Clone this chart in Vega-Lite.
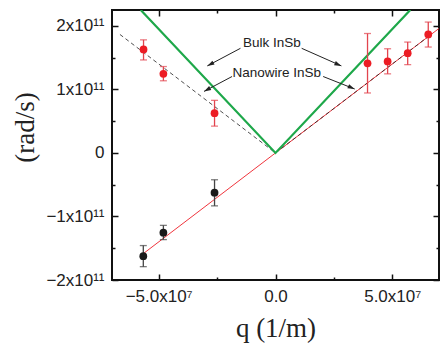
{
  "$schema": "https://vega.github.io/schema/vega-lite/v6.json",
  "autosize": {"type": "none"},
  "width": 327,
  "height": 270,
  "padding": {"left": 112, "top": 10, "right": 1, "bottom": 70},
  "background": "white",
  "config": {
    "view": {"stroke": "#111", "strokeWidth": 2},
    "axis": {"grid": false, "domain": false}
  },
  "datasets": {
    "lines": [
      {"series": "red", "q": -5.66e7, "w": -1.585e11},
      {"series": "red", "q": 7.0e7, "w": 1.96e11},
      {"series": "dash", "q": -6.66e7, "w": 1.865e11},
      {"series": "dash", "q": 0, "w": 0},
      {"series": "dash", "q": 6.66e7, "w": 1.865e11},
      {"series": "green", "q": -5.77e7, "w": 2.25e11},
      {"series": "green", "q": 0, "w": 0},
      {"series": "green", "q": 5.77e7, "w": 2.25e11}
    ],
    "points": [
      {"group": "red", "q": -5.65e7, "w": 1.63e11, "lo": 1.464e11, "hi": 1.78e11},
      {"group": "red", "q": -4.8e7, "w": 1.245e11, "lo": 1.136e11, "hi": 1.36e11},
      {"group": "red", "q": -2.61e7, "w": 0.625e11, "lo": 0.422e11, "hi": 0.828e11},
      {"group": "red", "q": 3.94e7, "w": 1.41e11, "lo": 0.944e11, "hi": 1.88e11},
      {"group": "red", "q": 4.8e7, "w": 1.44e11, "lo": 1.245e11, "hi": 1.64e11},
      {"group": "red", "q": 5.66e7, "w": 1.57e11, "lo": 1.39e11, "hi": 1.745e11},
      {"group": "red", "q": 6.54e7, "w": 1.865e11, "lo": 1.667e11, "hi": 2.06e11},
      {"group": "black", "q": -5.66e7, "w": -1.625e11, "lo": -1.79e11, "hi": -1.458e11},
      {"group": "black", "q": -4.8e7, "w": -1.255e11, "lo": -1.364e11, "hi": -1.14e11},
      {"group": "black", "q": -2.61e7, "w": -0.625e11, "lo": -0.833e11, "hi": -0.422e11}
    ],
    "arrows": [
      {"side": "left", "q": -1.5e7, "w": 1.647e11, "q2": -2.92e7, "w2": 1.37e11},
      {"side": "right", "q": 1.12e7, "w": 1.647e11, "q2": 2.82e7, "w2": 1.37e11},
      {"side": "left", "q": -1.86e7, "w": 1.203e11, "q2": -3.06e7, "w2": 0.969e11},
      {"side": "right", "q": 2.04e7, "w": 1.203e11, "q2": 3.39e7, "w2": 1.006e11}
    ],
    "labels": [
      {"label": "Bulk InSb", "q": -0.157e7, "w": 1.725e11},
      {"label": "Nanowire InSb", "q": 0.055e7, "w": 1.266e11}
    ]
  },
  "resolve": {"axis": {"x": "independent", "y": "independent"}},
  "layer": [
    {
      "data": {"name": "lines"},
      "transform": [{"filter": "datum.series == 'red'"}],
      "mark": {"type": "line", "color": "#f0353d", "strokeWidth": 1, "clip": true},
      "encoding": {
        "x": {"field": "q", "type": "quantitative",
          "scale": {"domain": [-7e7, 7e7], "nice": false, "zero": false},
          "axis": {
            "orient": "bottom",
            "values": [-5e7, -2.5e7, 0, 2.5e7, 5e7],
            "labelExpr": "datum.value == 0 ? '0.0' : (datum.value % 5e7 == 0 ? format(datum.value / 1e7, '.1f') + 'x10⁷' : '')",
            "labelFont": "Liberation Sans", "labelFontSize": 17, "labelColor": "#222",
            "labelPadding": 14,
            "tickColor": "#111", "tickWidth": 1.5,
            "tickSize": {"condition": {"test": "datum.value % 5e7 == 0", "value": -6}, "value": -3},
            "title": "q (1/m)", "titleFont": "Liberation Serif", "titleFontSize": 27,
            "titleFontWeight": "normal", "titleColor": "#222", "titlePadding": 11
          }},
        "y": {"field": "w", "type": "quantitative",
          "scale": {"domain": [-2e11, 2.25e11], "nice": false, "zero": false},
          "axis": {
            "orient": "left",
            "values": [-2e11, -1.5e11, -1e11, -0.5e11, 0, 0.5e11, 1e11, 1.5e11, 2e11],
            "labelExpr": "datum.value == 0 ? '0' : (datum.value % 1e11 == 0 ? format(datum.value / 1e11, 'd') + 'x10¹¹' : '')",
            "labelFont": "Liberation Sans", "labelFontSize": 17, "labelColor": "#222",
            "labelPadding": 14,
            "tickColor": "#111", "tickWidth": 1.5,
            "tickSize": {"condition": {"test": "datum.value % 1e11 == 0", "value": -6}, "value": -3},
            "title": "(rad/s)", "titleFont": "Liberation Serif", "titleFontSize": 27,
            "titleFontWeight": "normal", "titleColor": "#222",
            "titleX": -87, "titleY": 117, "titleAngle": -90, "titleBaseline": "middle", "titleAlign": "center"
          }}
      }
    },
    {
      "data": {"name": "lines"},
      "transform": [{"filter": "datum.series == 'dash'"}],
      "mark": {"type": "line", "color": "#222", "strokeWidth": 0.8, "strokeDash": [4, 3], "clip": true},
      "encoding": {
        "x": {"field": "q", "type": "quantitative",
          "axis": {
            "orient": "top", "labels": false, "title": null,
            "values": [-5e7, -2.5e7, 0, 2.5e7, 5e7],
            "tickColor": "#111", "tickWidth": 1.5,
            "tickSize": {"condition": {"test": "datum.value % 5e7 == 0", "value": -6}, "value": -3}
          }},
        "y": {"field": "w", "type": "quantitative",
          "axis": {
            "orient": "right", "labels": false, "title": null,
            "values": [-2e11, -1.5e11, -1e11, -0.5e11, 0, 0.5e11, 1e11, 1.5e11, 2e11],
            "tickColor": "#111", "tickWidth": 1.5,
            "tickSize": {"condition": {"test": "datum.value % 1e11 == 0", "value": -6}, "value": -3}
          }}
      }
    },
    {
      "data": {"name": "lines"},
      "transform": [{"filter": "datum.series == 'green'"}],
      "mark": {"type": "line", "color": "#1ea84a", "strokeWidth": 2.2, "clip": true},
      "encoding": {
        "x": {"field": "q", "type": "quantitative", "axis": null},
        "y": {"field": "w", "type": "quantitative", "axis": null}
      }
    },
    {
      "data": {"name": "points"},
      "mark": {"type": "errorbar", "ticks": {"size": 7}, "thickness": 1.3},
      "encoding": {
        "x": {"field": "q", "type": "quantitative", "axis": null},
        "y": {"field": "lo", "type": "quantitative", "axis": null},
        "y2": {"field": "hi"},
        "color": {"field": "group", "type": "nominal",
          "scale": {"domain": ["red", "black"], "range": ["#e2444e", "#444444"]}, "legend": null}
      }
    },
    {
      "data": {"name": "points"},
      "mark": {"type": "point", "filled": true, "opacity": 1, "size": 60, "shape": "circle"},
      "encoding": {
        "x": {"field": "q", "type": "quantitative", "axis": null},
        "y": {"field": "w", "type": "quantitative", "axis": null},
        "fill": {"field": "group", "type": "nominal",
          "scale": {"domain": ["red", "black"], "range": ["#ec1c24", "#1a1a1a"]}, "legend": null}
      }
    },
    {
      "data": {"name": "arrows"},
      "mark": {"type": "rule", "color": "#222", "strokeWidth": 1},
      "encoding": {
        "x": {"field": "q", "type": "quantitative", "axis": null},
        "y": {"field": "w", "type": "quantitative", "axis": null},
        "x2": {"field": "q2"},
        "y2": {"field": "w2"}
      }
    },
    {
      "data": {"name": "arrows"},
      "transform": [{"filter": "datum.side == 'left'"}],
      "mark": {"type": "point", "filled": true, "opacity": 1, "color": "#222", "size": 100,
        "shape": "M0,0L0.45,1.4L-0.45,1.4Z", "angle": 242},
      "encoding": {
        "x": {"field": "q2", "type": "quantitative", "axis": null},
        "y": {"field": "w2", "type": "quantitative", "axis": null}
      }
    },
    {
      "data": {"name": "arrows"},
      "transform": [{"filter": "datum.side == 'right'"}],
      "mark": {"type": "point", "filled": true, "opacity": 1, "color": "#222", "size": 100,
        "shape": "M0,0L0.45,1.4L-0.45,1.4Z", "angle": 113},
      "encoding": {
        "x": {"field": "q2", "type": "quantitative", "axis": null},
        "y": {"field": "w2", "type": "quantitative", "axis": null}
      }
    },
    {
      "data": {"name": "labels"},
      "mark": {"type": "text", "font": "Liberation Sans", "fontSize": 13.5, "color": "#222",
        "align": "center", "baseline": "middle"},
      "encoding": {
        "x": {"field": "q", "type": "quantitative", "axis": null},
        "y": {"field": "w", "type": "quantitative", "axis": null},
        "text": {"field": "label"}
      }
    }
  ]
}
